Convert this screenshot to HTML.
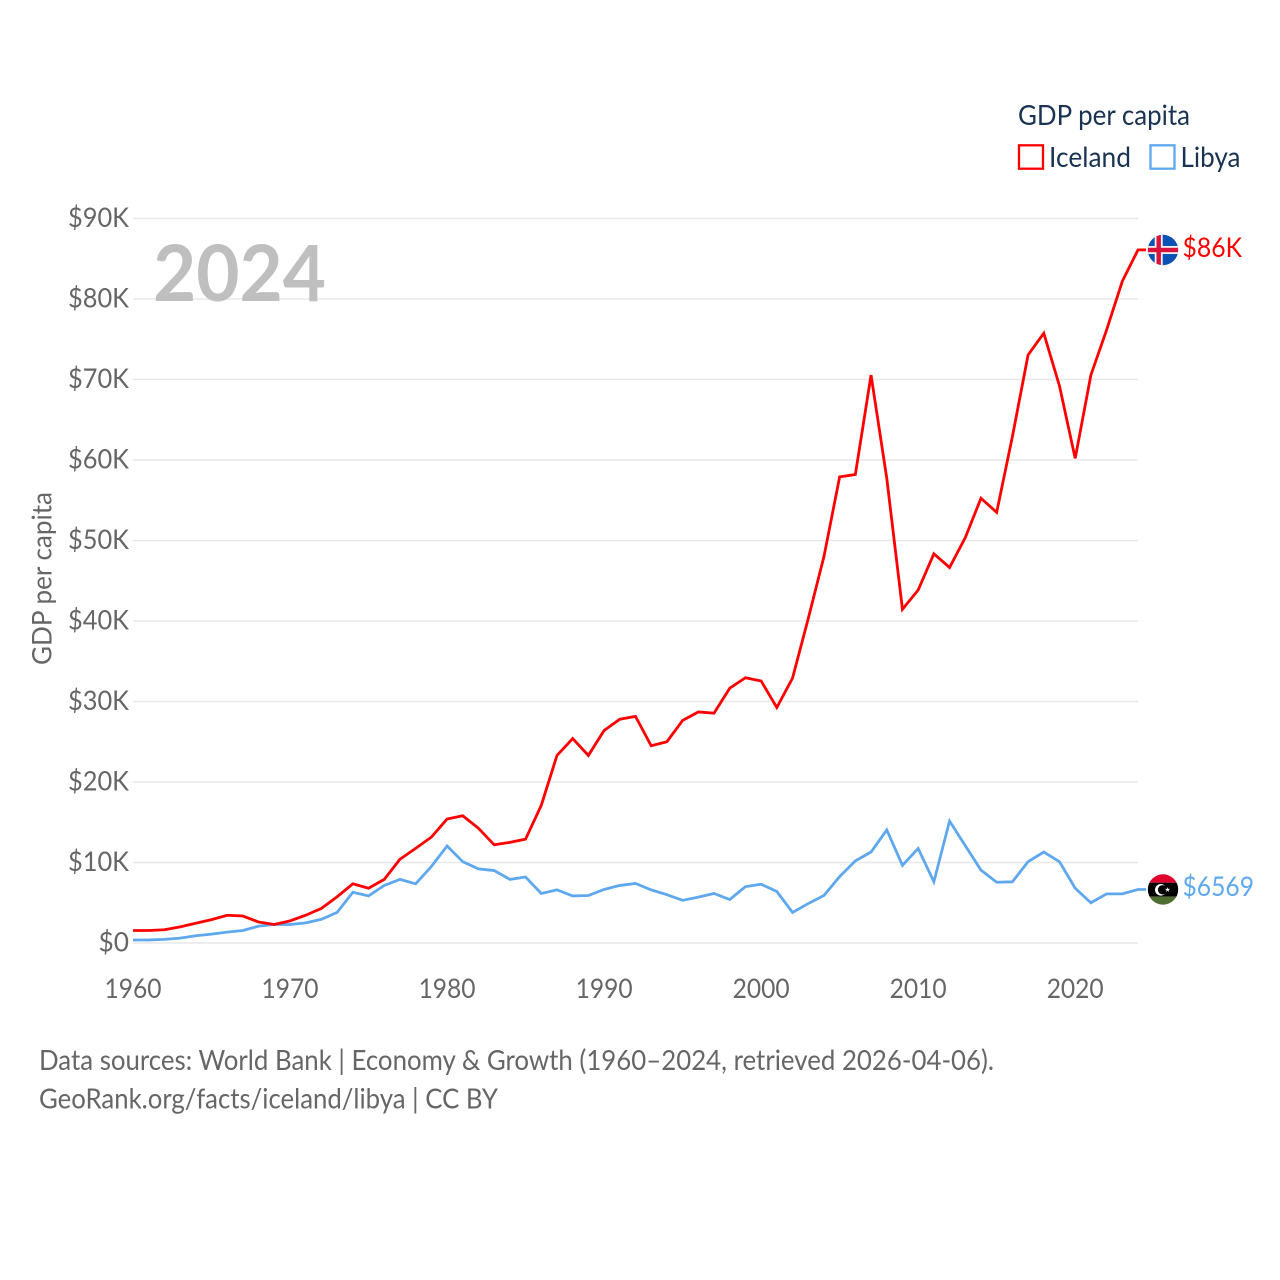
<!DOCTYPE html>
<html lang="en">
<head>
<meta charset="utf-8">
<title>GDP per capita: Iceland and Libya</title>
<style>
html,body{margin:0;padding:0;background:#fff;width:1280px;height:1280px;overflow:hidden}
svg{display:block}
text{font-family:"Lato","Carlito","Liberation Sans",sans-serif}
</style>
</head>
<body>
<svg id="chart" xmlns="http://www.w3.org/2000/svg" width="1280" height="1280" viewBox="0 0 1280 1280">
  <defs>
    <clipPath id="flag-clip-iceland"><circle cx="1163" cy="250" r="15.2"/></clipPath>
    <clipPath id="flag-clip-libya"><circle cx="1163" cy="889.5" r="15.2"/></clipPath>
  </defs>
  <g id="grid"></g>
  <g id="yticks"></g>
  <g id="xticks"></g>
  <text x="153" y="301" font-size="78" font-weight="700" fill="#bfbfbf" textLength="173" lengthAdjust="spacingAndGlyphs">2024</text>
  <text transform="translate(51.5 578.5) rotate(-90)" text-anchor="middle" font-size="27" fill="#666666" textLength="173" lengthAdjust="spacingAndGlyphs">GDP per capita</text>
  <g id="series"></g>

  <g>
    <text x="1018" y="125" font-size="28" fill="#1a3352" textLength="172" lengthAdjust="spacingAndGlyphs">GDP per capita</text>
    <g>
      <rect x="1019" y="145.3" width="24" height="23.4" fill="#fff" stroke="#ff0000" stroke-width="2.3"/>
      <text x="1049" y="167" font-size="28" fill="#1a3352" textLength="82" lengthAdjust="spacingAndGlyphs">Iceland</text>
    </g>
    <g>
      <rect x="1150.5" y="145.3" width="24" height="23.4" fill="#fff" stroke="#5fa8ee" stroke-width="2.3"/>
      <text x="1180.5" y="167" font-size="28" fill="#1a3352" textLength="60" lengthAdjust="spacingAndGlyphs">Libya</text>
    </g>
  </g>

  <g clip-path="url(#flag-clip-iceland)">
    <rect x="1147" y="234" width="32" height="32" fill="#0a52b4"/>
    <rect x="1154.7" y="234" width="8" height="32" fill="#f2f2f2"/>
    <rect x="1147" y="246" width="32" height="8" fill="#f2f2f2"/>
    <rect x="1156.5" y="234" width="4.4" height="32" fill="#d8123c"/>
    <rect x="1147" y="247.8" width="32" height="4.4" fill="#d8123c"/>
  </g>
  <g clip-path="url(#flag-clip-libya)">
    <rect x="1147" y="874" width="32" height="8.7" fill="#e0002d"/>
    <rect x="1147" y="882.7" width="32" height="14" fill="#000000"/>
    <rect x="1147" y="896.7" width="32" height="9" fill="#4f6f30"/>
    <circle cx="1160.8" cy="889.8" r="5.8" fill="#ffffff"/>
    <circle cx="1162.6" cy="889.8" r="4.7" fill="#000000"/>
    <polygon points="1167.6,887.1 1168.2,888.9 1170.2,888.9 1168.6,890.1 1169.2,892 1167.6,890.8 1166,892 1166.6,890.1 1165,888.9 1167,888.9" fill="#ffffff"/>
  </g>

  <g>
    <text x="39" y="1070" font-size="28" fill="#666666" textLength="955" lengthAdjust="spacingAndGlyphs">Data sources: World Bank | Economy &amp; Growth (1960–2024, retrieved 2026-04-06).</text>
    <text x="39" y="1108.5" font-size="28" fill="#666666" textLength="459" lengthAdjust="spacingAndGlyphs">GeoRank.org/facts/iceland/libya | CC BY</text>
  </g>
</svg>
<script>
const years = [1960,1961,1962,1963,1964,1965,1966,1967,1968,1969,1970,1971,1972,1973,1974,1975,1976,1977,1978,1979,1980,1981,1982,1983,1984,1985,1986,1987,1988,1989,1990,1991,1992,1993,1994,1995,1996,1997,1998,1999,2000,2001,2002,2003,2004,2005,2006,2007,2008,2009,2010,2011,2012,2013,2014,2015,2016,2017,2018,2019,2020,2021,2022,2023,2024];
const icelandValues = [1.55,1.55,1.65,2.0,2.45,2.9,3.45,3.35,2.6,2.3,2.75,3.45,4.3,5.75,7.35,6.8,7.9,10.4,11.75,13.15,15.4,15.8,14.25,12.2,12.5,12.9,17.1,23.3,25.4,23.3,26.4,27.8,28.15,24.5,25.0,27.65,28.7,28.55,31.65,32.95,32.55,29.25,32.9,40.3,48.0,57.9,58.2,70.55,57.75,41.45,43.85,48.35,46.65,50.35,55.25,53.5,62.9,73.05,75.75,69.2,60.2,70.55,76.15,82.2,86.1];
const libyaValues = [0.37,0.38,0.45,0.6,0.9,1.1,1.35,1.55,2.1,2.3,2.3,2.5,2.95,3.8,6.3,5.85,7.15,7.9,7.35,9.5,12.05,10.1,9.2,9.0,7.9,8.2,6.15,6.6,5.85,5.9,6.65,7.15,7.4,6.6,6.0,5.3,5.7,6.15,5.4,7.0,7.3,6.4,3.8,4.9,5.9,8.25,10.2,11.3,14.05,9.65,11.75,7.6,15.15,12.1,9.05,7.55,7.6,10.1,11.3,10.1,6.8,5.0,6.1,6.1,6.65];
const yTickValues = [0,10,20,30,40,50,60,70,80,90];
const yTickLabels = ["$0","$10K","$20K","$30K","$40K","$50K","$60K","$70K","$80K","$90K"];
const xTickValues = [1960,1970,1980,1990,2000,2010,2020];
const xTickLabels = ["1960","1970","1980","1990","2000","2010","2020"];
const icelandEndLabel = "$86K";
const libyaEndLabel = "$6569";

const NS = "http://www.w3.org/2000/svg";
const PLOT_LEFT = 133, PLOT_RIGHT = 1138, PLOT_BOTTOM = 943, PLOT_TOP = 218.5;
const xScale = v => PLOT_LEFT + (v - 1960) * (PLOT_RIGHT - PLOT_LEFT) / 64;
const yScale = v => PLOT_BOTTOM - v * (PLOT_BOTTOM - PLOT_TOP) / 90;

function svgEl(tag, parent, attrs) {
  const el = document.createElementNS(NS, tag);
  for (const k in attrs) el.setAttribute(k, attrs[k]);
  parent.appendChild(el);
  return el;
}

const gridG = document.getElementById("grid");
const yG = document.getElementById("yticks");
const xG = document.getElementById("xticks");
const seriesG = document.getElementById("series");
const svgRoot = document.getElementById("chart");

yTickValues.forEach((v, i) => {
  const line = svgEl("line", gridG, {x1: PLOT_LEFT, x2: PLOT_RIGHT, y1: yScale(v), y2: yScale(v), stroke: "#e8e8e8", "stroke-width": 1.4});
  
  
  const t = svgEl("text", yG, {x: 129, y: yScale(v) + 8.5, "text-anchor": "end", "font-size": 27, fill: "#666666", textLength: yTickLabels[i].length * 15.25, lengthAdjust: "spacingAndGlyphs"});
  t.textContent = yTickLabels[i];
  
  
});

xTickValues.forEach((v, i) => {
  const t = svgEl("text", xG, {x: xScale(v), y: 998, "text-anchor": "middle", "font-size": 27, fill: "#666666", textLength: 57, lengthAdjust: "spacingAndGlyphs"});
  t.textContent = xTickLabels[i];
  
  
});

function drawSeries(values, color) {
  const pts = values.map((v, i) => xScale(years[i]).toFixed(2) + "," + yScale(v).toFixed(2));
  const lastY = yScale(values[values.length - 1]).toFixed(2);
  pts.push((PLOT_RIGHT + 8) + "," + lastY);
  return svgEl("polyline", seriesG, {points: pts.join(" "), fill: "none", stroke: color, "stroke-width": 2.8, "stroke-linejoin": "miter"});
}

const libyaLine = drawSeries(libyaValues, "#5fa8ee");


const icelandLine = drawSeries(icelandValues, "#ff0000");



const icelandEnd = svgEl("text", svgRoot, {x: 1182.5, y: 257, "font-size": 27, fill: "#ff0000", textLength: 59.5, lengthAdjust: "spacingAndGlyphs"});
icelandEnd.textContent = icelandEndLabel;



const libyaEnd = svgEl("text", svgRoot, {x: 1182.5, y: 896, "font-size": 27, fill: "#5fa8ee", textLength: 71.5, lengthAdjust: "spacingAndGlyphs"});
libyaEnd.textContent = libyaEndLabel;


</script>
</body>
</html>
